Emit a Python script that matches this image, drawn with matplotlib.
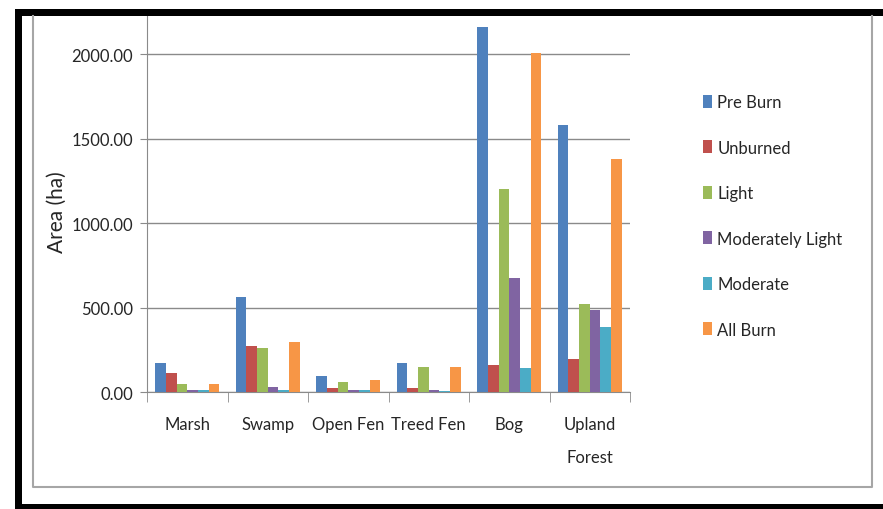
import matplotlib.pyplot as plt
from matplotlib.patches import Rectangle
import numpy as np

categories = ["Marsh", "Swamp", "Open Fen", "Treed Fen", "Bog", "Upland\nForest"]
series_names = ["Pre Burn", "Unburned", "Light", "Moderately Light", "Moderate", "All Burn"]
pre_burn = [172, 566, 95, 173, 2163, 1583]
unburned = [116, 272, 27, 27, 162, 197]
light = [49, 262, 63, 150, 1203, 521]
mod_light = [15, 30, 15, 14, 678, 487]
moderate = [12, 14, 12, 10, 142, 385]
all_burn = [49, 296, 73, 152, 2006, 1380]
y_ticks = [0, 500, 1000, 1500, 2000]

colors = ["#4F81BD", "#C0504D", "#9BBB59", "#8064A2", "#4BACC6", "#F79646"]
series = [pre_burn, unburned, light, mod_light, moderate, all_burn]

plt.rcParams['font.family'] = ['Lato', 'DejaVu Sans']
text_col = "#262626"
grid_col = "#8a8a8a"

fig = plt.figure(figsize=(8.83, 5.10), dpi=100)
W, H = 883, 510

# outer black frame and grey chart border (pixel coords -> figure fraction)
def px_rect(x0, y0, x1, y1, **kw):
    fig.patches.append(Rectangle((x0 / W, 1 - y1 / H), (x1 - x0) / W, (y1 - y0) / H,
                                 transform=fig.transFigure, **kw))

px_rect(15, 10, 883, 17, color="black", lw=0)
px_rect(15, 10, 22, 510, color="black", lw=0)
px_rect(15, 505, 883, 510, color="black", lw=0)
fig.add_artist(plt.Line2D([33 / W, 33 / W, 872 / W, 872 / W], [1 - 17 / H, 1 - 488 / H, 1 - 488 / H, 1 - 17 / H],
                          transform=fig.transFigure, color="#a6a6a6", lw=1.5))

ax = fig.add_axes([147 / W, 1 - 393.3 / H, (630 - 147) / W, (393.3 - 17) / H])
x = np.arange(len(categories))
bw = 1 / 7.5
for i, (vals, name) in enumerate(zip(series, series_names)):
    ax.bar(x - 0.4 + bw * (i + 0.5), vals, width=bw, color=colors[i], label=name, zorder=3)

ax.set_xlim(-0.5, len(categories) - 0.5)
ax.set_ylim(0, 2226)
ax.set_yticks(y_ticks)
ax.set_yticklabels([f"{v:.2f}" for v in y_ticks], fontsize=12, color=text_col)
ax.yaxis.grid(True, color=grid_col, lw=1, zorder=0)
ax.tick_params(axis='y', length=5, color=grid_col, pad=5)

ax.set_xticks(x)
ax.set_xticklabels(categories, fontsize=12, color=text_col, linespacing=2.3)
ax.tick_params(axis='x', length=0, pad=17)
ax.set_xticks(np.arange(-0.5, len(categories)), minor=True)
ax.tick_params(axis='x', which='minor', length=7, color=grid_col)

for s in ['top', 'right']:
    ax.spines[s].set_visible(False)
ax.spines['left'].set_color(grid_col)
ax.spines['bottom'].set_color(grid_col)

fig.text(57 / W, 1 - 212 / H, "Area (ha)", rotation=90, ha='center', va='center', fontsize=15, color=text_col)

leg = ax.legend(loc='upper left', bbox_to_anchor=(703 / W, 1 - 95 / H), bbox_transform=fig.transFigure,
                frameon=False, fontsize=12, handlelength=0.55, handleheight=0.8, handletextpad=0.3,
                labelspacing=1.77, borderaxespad=0, borderpad=0)
for t in leg.get_texts():
    t.set_color(text_col)

fig.savefig("out.png", dpi=100)
